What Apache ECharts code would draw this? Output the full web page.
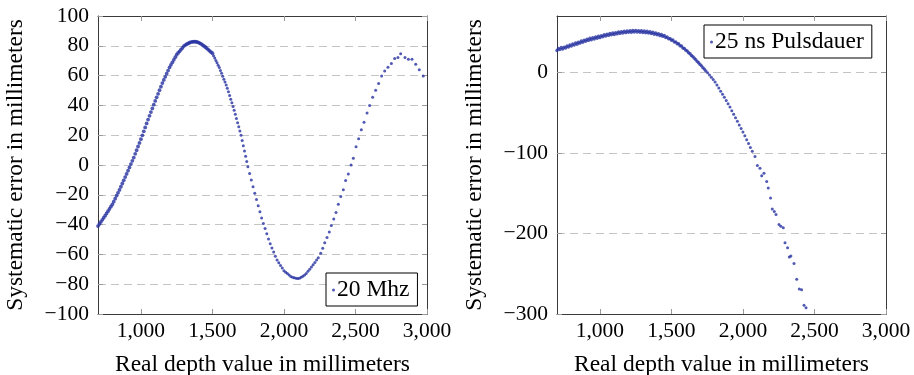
<!DOCTYPE html>
<html>
<head>
<meta charset="utf-8">
<script src="https://cdn.jsdelivr.net/npm/echarts@6/dist/echarts.min.js"></script>
<style>
html,body{margin:0;padding:0;background:#fff;}
#chart{width:914px;height:375px;}
</style>
</head>
<body>
<div id="chart"></div>
<script>
// ---- data ----
const xTickValues = [1000, 1500, 2000, 2500, 3000];
const rightYTickValues = [-300, -200, -100, 0];
const name20 = '20 Mhz';
const name25 = '25 ns Pulsdauer';
const xTitle = 'Real depth value in millimeters';
const yTitle = 'Systematic error in millimeters';

// 20 MHz: real depth (mm), systematic error (mm)
const points20Dense = [
[700,-41.0],[710,-39.6],[720,-38.2],[730,-36.8],[740,-35.4],[750,-34.0],[760,-32.5],[770,-31.0],[780,-29.5],[790,-28.0],
[800,-26.5],[810,-24.6],[820,-22.6],[830,-20.6],[840,-18.7],[850,-16.7],[860,-14.6],[870,-12.4],[880,-10.3],[890,-8.1],
[900,-6.0],[910,-3.8],[920,-1.6],[930,0.6],[940,2.8],[950,5.0],[960,7.5],[970,9.9],[980,12.4],[990,14.8],
[1000,17.3],[1010,19.9],[1020,22.6],[1030,25.2],[1040,27.9],[1050,30.5],[1060,33.0],[1070,35.5],[1080,38.0],[1090,40.5],
[1100,43.0],[1110,45.4],[1120,47.8],[1130,50.2],[1140,52.6],[1150,55.0],[1160,57.1],[1170,59.2],[1180,61.3],[1190,63.4],
[1200,65.5],[1210,67.2],[1220,68.9],[1230,70.6],[1240,72.3],[1250,74.0],[1260,75.2],[1270,76.3],[1280,77.5],[1290,78.6],
[1300,79.8],[1310,80.5],[1320,81.1],[1330,81.6],[1340,82.1],[1350,82.5],[1360,82.7],[1370,82.8],[1380,82.8],[1390,82.6],
[1400,82.3],[1410,81.8],[1420,81.3],[1430,80.6],[1440,79.9],[1450,79.2],[1460,78.4],[1470,77.5],[1480,76.6],[1490,75.8],
[1500,75.0]
];
const points20Mid = [
[1508,73.4],[1516,71.8],[1524,70.2],[1532,68.6],[1540,67.0],[1548,65.4],[1556,63.5],[1564,61.6],[1572,59.6],[1580,57.6],
[1588,55.7],[1596,53.7],[1604,51.5],[1612,49.1],[1620,46.6],[1628,44.2],[1636,41.8],[1644,39.3],[1652,36.8],[1660,34.0],
[1668,31.2],[1676,28.4],[1684,25.6],[1692,22.8],[1700,20.0],[1708,16.5],[1716,13.0],[1724,9.4],[1732,5.9],[1740,2.4],
[1748,-1.1],[1760,-5.7],[1772,-10.1],[1784,-14.6],[1796,-19.0],[1808,-23.2],[1820,-27.3],[1832,-31.4],[1844,-35.5],[1856,-39.2],
[1868,-42.7],[1880,-46.2],[1892,-49.7],[1904,-52.9],[1916,-55.7],[1928,-58.4],[1940,-61.2],[1952,-63.8],[1964,-65.6],[1976,-67.4],
[1988,-69.2],[2000,-71.0],[2012,-72.0],[2024,-72.9],[2036,-73.9],[2048,-74.8],[2060,-75.3],[2072,-75.7],[2084,-76.0],[2096,-76.1],
[2108,-76.0],[2120,-75.4],[2132,-74.6],[2144,-73.9],[2156,-72.8],[2168,-71.3],[2180,-69.9],[2192,-68.5],[2204,-67.0],[2216,-65.4],
[2228,-63.8]
];
const points20Sparse = [
[2240,-62.2],[2257,-59.3],[2271,-55.8],[2285,-52.2],[2301,-48.6],[2317,-44.9],[2331,-40.6],[2348,-36.2],[2364,-31.8],[2380,-26.4],
[2397,-21.1],[2415,-16.6],[2431,-10.4],[2450,-6.0],[2469,0.0],[2485,4.5],[2504,12.2],[2522,17.6],[2541,23.6],[2560,28.7],
[2581,34.9],[2599,40.0],[2620,45.4],[2641,50.2],[2662,54.7],[2683,59.8],[2704,63.1],[2727,65.6],[2751,68.2],[2774,71.4],
[2797,72.2],[2816,74.7],[2846,72.2],[2870,70.9],[2895,70.9],[2921,67.6],[2946,64.0],[2974,59.8]
];

// 25 ns pulse duration
const points25Dense = [
[700,27.2],[710,29.6],[720,28.3],[730,30.8],[740,29.1],[750,31.4],[760,30.2],[770,32.9],[780,31.5],[790,34.0],
[800,32.6],[810,35.3],[820,33.9],[830,36.6],[840,35.0],[850,37.4],[860,36.3],[870,39.0],[880,37.4],[890,40.1],
[900,38.6],[910,41.2],[920,39.7],[930,42.3],[940,40.6],[950,43.1],[960,41.5],[970,44.0],[980,42.4],[990,44.9],
[1000,43.1],[1010,45.6],[1020,44.2],[1030,46.7],[1040,45.2],[1050,47.5],[1060,45.9],[1070,48.3],[1080,46.6],[1090,48.9],
[1100,47.1],[1110,49.4],[1120,47.8],[1130,50.1],[1140,48.4],[1150,50.6],[1160,48.9],[1170,51.2],[1180,49.3],[1190,51.5],
[1200,49.7],[1210,51.8],[1220,49.8],[1230,52.0],[1240,50.1],[1250,52.1],[1260,50.0],[1270,51.9],[1280,49.9],[1290,51.7],
[1300,49.6],[1310,51.4],[1320,49.2],[1330,51.0],[1340,48.8],[1350,50.5],[1360,48.2],[1370,49.9],[1380,47.4],[1390,48.9],
[1400,46.7],[1410,48.1],[1420,45.6],[1430,47.0],[1440,44.7],[1450,45.9],[1460,43.3],[1470,44.1],[1480,41.6],[1490,42.2],
[1500,39.8],[1510,40.2],[1520,37.6],[1530,37.9],[1540,35.5],[1550,35.6],[1560,33.1],[1570,32.7],[1580,30.3],[1590,29.8],
[1600,27.6],[1610,26.6],[1620,24.3],[1630,23.1],[1640,21.0],[1650,19.6],[1660,17.5],[1670,15.8],[1680,13.6],[1690,12.0],
[1700,9.9],[1710,8.1],[1720,5.9],[1730,4.1],[1740,1.9]
];
const points25Mid = [
[1753,-0.6],[1766,-3.4],[1779,-6.1],[1792,-8.8],[1805,-11.9],[1818,-15.7],[1831,-19.5],[1844,-23.3],[1857,-27.1],[1870,-31.0],
[1883,-34.9],[1896,-38.8],[1909,-43.1],[1922,-47.5],[1935,-51.9],[1948,-56.3],[1961,-60.7],[1974,-65.2],[1987,-69.6],[2000,-74.0],
[2013,-78.8],[2026,-83.6],[2039,-88.4],[2052,-93.2],[2065,-98.0]
];
const points25Sparse = [
[2084,-104.5],[2101,-115.7],[2119,-118.9],[2131,-128.4],[2147,-125.1],[2166,-135.4],[2177,-143.6],[2193,-156.0],[2205,-169.5],[2219,-172.8],
[2231,-176.5],[2252,-188.9],[2265,-191.0],[2282,-193.0],[2294,-211.5],[2312,-217.7],[2324,-229.3],[2335,-228.0],[2357,-237.4],[2376,-256.8],
[2394,-269.1],[2410,-270.0],[2427,-289.0],[2441,-292.2]
];

// ---- styling ----
const FONT = 'Liberation Serif';
const DOT = '#2631a0';
const FRAME = '#3a3a3a';
const TICK = '#9a9a9a';
const TICK_FS = 21.5;
const TITLE_FS = 23.5;

const fmtX = v => v.toLocaleString('en-US');
const fmtY = v => v < 0 ? '\u2212' + Math.abs(v) : String(v);

function xAxes(gridIndex) {
  const base = {
    gridIndex, type: 'value', min: 700, max: 3000,
    axisLine: {show: true, onZero: false, lineStyle: {color: FRAME, width: 1}},
    axisTick: {show: true, inside: true, length: 5, customValues: xTickValues, lineStyle: {color: TICK}},
    splitLine: {show: false}
  };
  return [
    Object.assign({}, base, {
      position: 'bottom',
      axisLabel: {show: true, customValues: xTickValues, formatter: fmtX, margin: 6,
        fontFamily: FONT, fontSize: TICK_FS, color: '#000'},
      name: xTitle, nameLocation: 'middle', nameGap: 39,
      nameTextStyle: {fontFamily: FONT, fontSize: TITLE_FS, color: '#000'}
    }),
    Object.assign({}, base, {position: 'top', axisLabel: {show: false}})
  ];
}

function yAxes(gridIndex, min, max, opts) {
  const tickCfg = {show: true, inside: true, length: 5, lineStyle: {color: TICK}};
  const labelCfg = {show: true, formatter: fmtY, margin: 9, fontFamily: FONT, fontSize: TICK_FS, color: '#000'};
  if (opts.custom) { tickCfg.customValues = opts.custom; labelCfg.customValues = opts.custom; }
  const left = {
    gridIndex, type: 'value', min, max, position: 'left',
    axisLine: {show: true, onZero: false, lineStyle: {color: FRAME, width: 1}},
    axisTick: tickCfg,
    axisLabel: labelCfg,
    splitLine: {show: true, lineStyle: {color: '#c4c4c4', type: [8, 5], width: 1}},
    name: yTitle, nameLocation: 'middle', nameGap: opts.nameGap,
    nameTextStyle: {fontFamily: FONT, fontSize: TITLE_FS, color: '#000'}
  };
  if (opts.interval) left.interval = opts.interval;
  const right = {
    gridIndex, type: 'value', min, max, position: 'right',
    axisLine: {show: true, onZero: false, lineStyle: {color: FRAME, width: 1}},
    axisTick: Object.assign({}, tickCfg),
    axisLabel: {show: false},
    splitLine: {show: false}
  };
  if (opts.interval) right.interval = opts.interval;
  return [left, right];
}

function scatter(name, data, xi, yi, size) {
  return {
    name, type: 'scatter', data, xAxisIndex: xi, yAxisIndex: yi,
    symbol: 'circle', symbolSize: size,
    itemStyle: {color: DOT}, silent: true
  };
}

const legendBase = {
  backgroundColor: '#fff', borderColor: '#000', borderWidth: 1,
  padding: [5, 8, 4, 6], itemWidth: 3, itemHeight: 3, selectedMode: false,
  textStyle: {fontFamily: FONT, fontSize: TITLE_FS, color: '#000', padding: [0, 0, 0, -3]}
};

const chart = echarts.init(document.getElementById('chart'), null, {renderer: 'canvas'});
chart.setOption({
  animation: false,
  backgroundColor: '#fff',
  grid: [
    {left: 98, top: 16, width: 329, height: 298, outerBoundsMode: 'none', containLabel: false},
    {left: 557, top: 16, width: 329, height: 298, outerBoundsMode: 'none', containLabel: false}
  ],
  xAxis: [...xAxes(0), ...xAxes(1)],
  yAxis: [
    ...yAxes(0, -100, 100, {interval: 20, nameGap: 70}),
    ...yAxes(1, -300, 70, {custom: rightYTickValues, nameGap: 70})
  ],
  legend: [
    Object.assign({}, legendBase, {data: [{name: name20, icon: 'circle'}], left: 326, top: 273}),
    Object.assign({}, legendBase, {data: [{name: name25, icon: 'circle'}], left: 704, top: 25})
  ],
  series: [
    scatter(name20, points20Dense, 0, 0, 3.8),
    scatter(name20, points20Mid.concat(points20Sparse), 0, 0, 3),
    scatter(name25, points25Dense, 2, 2, 3.4),
    scatter(name25, points25Mid.concat(points25Sparse), 2, 2, 3)
  ]
});
</script>
</body>
</html>
